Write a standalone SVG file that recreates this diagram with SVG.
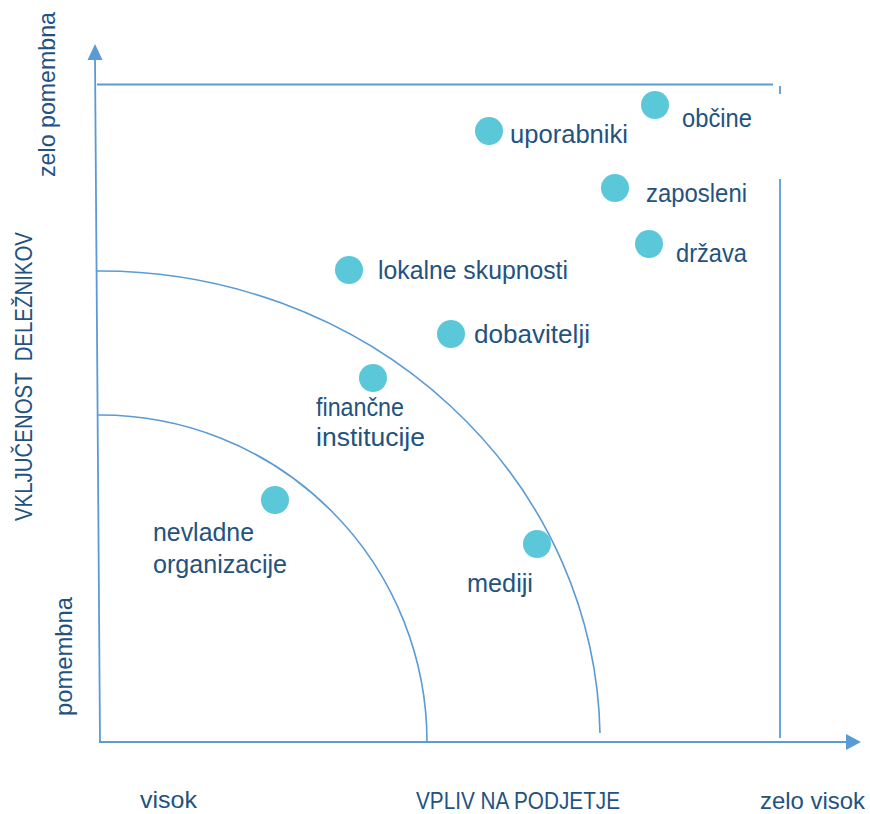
<svg xmlns="http://www.w3.org/2000/svg" width="870" height="814" viewBox="0 0 870 814">
<style>
.ln{fill:none;stroke:#5B9BD5;stroke-width:1.8}
.arc{fill:none;stroke:#5B9BD5;stroke-width:1.6}
.dot{fill:#5BC8D9}
.t{font-family:"Liberation Sans",Arial,sans-serif;font-size:26px;fill:#23527F}
.ax{font-family:"Liberation Sans",Arial,sans-serif;font-size:24px;fill:#23527F;white-space:pre}
</style>
<rect width="870" height="814" fill="#ffffff"/>
<g id="connectors">
<line class="ln" x1="95" y1="58" x2="100" y2="742"/>
<polygon points="95,44 87.5,60 102.5,60" fill="#5B9BD5"/>
<line class="ln" x1="99" y1="742" x2="847" y2="742"/>
<polygon points="861,742 846,734 846,750" fill="#5B9BD5"/>
<line class="ln" x1="97" y1="84.5" x2="773" y2="84.5"/>
<line class="ln" x1="780" y1="86" x2="780" y2="94"/>
<line class="ln" x1="780" y1="179" x2="780" y2="738"/>
<path class="arc" d="M97,271 L100,271 A500,471 0 0 1 600,733"/>
<path class="arc" d="M97,415 L100,415 A327,327 0 0 1 427,742"/>
</g>
<g id="axis-labels">
<text class="ax" x="140" y="808" textLength="57" lengthAdjust="spacingAndGlyphs">visok</text>
<text class="ax" x="416" y="809" textLength="204" lengthAdjust="spacingAndGlyphs">VPLIV NA PODJETJE</text>
<text class="ax" x="760" y="809" textLength="105" lengthAdjust="spacingAndGlyphs">zelo visok</text>
<text class="ax" transform="translate(32,521) rotate(-90)" textLength="289" lengthAdjust="spacingAndGlyphs" xml:space="preserve">VKLJUČENOST  DELEŽNIKOV</text>
<text class="ax" transform="translate(72,716) rotate(-90)" textLength="119" lengthAdjust="spacingAndGlyphs">pomembna</text>
<text class="ax" transform="translate(55,177) rotate(-90)" textLength="165" lengthAdjust="spacingAndGlyphs">zelo pomembna</text>
</g>
<g id="node-uporabniki"><circle class="dot" cx="489" cy="131" r="14"/><text class="t" x="510" y="143" textLength="118" lengthAdjust="spacingAndGlyphs">uporabniki</text></g>
<g id="node-obcine"><circle class="dot" cx="655" cy="105" r="14"/><text class="t" x="682" y="127" textLength="70" lengthAdjust="spacingAndGlyphs">občine</text></g>
<g id="node-zaposleni"><circle class="dot" cx="615" cy="188" r="14"/><text class="t" x="646" y="202" textLength="101" lengthAdjust="spacingAndGlyphs">zaposleni</text></g>
<g id="node-drzava"><circle class="dot" cx="649" cy="244" r="14"/><text class="t" x="676" y="262" textLength="71" lengthAdjust="spacingAndGlyphs">država</text></g>
<g id="node-lokalne"><circle class="dot" cx="349" cy="270" r="14"/><text class="t" x="378" y="279" textLength="190" lengthAdjust="spacingAndGlyphs">lokalne skupnosti</text></g>
<g id="node-dobavitelji"><circle class="dot" cx="451" cy="334" r="14"/><text class="t" x="474" y="343" textLength="116" lengthAdjust="spacingAndGlyphs">dobavitelji</text></g>
<g id="node-financne"><circle class="dot" cx="373" cy="378" r="14"/><text class="t" x="316" y="416" textLength="88" lengthAdjust="spacingAndGlyphs">finančne</text><text class="t" x="316" y="446" textLength="109" lengthAdjust="spacingAndGlyphs">institucije</text></g>
<g id="node-nevladne"><circle class="dot" cx="275" cy="500" r="14"/><text class="t" x="153" y="541" textLength="101" lengthAdjust="spacingAndGlyphs">nevladne</text><text class="t" x="153" y="573" textLength="134" lengthAdjust="spacingAndGlyphs">organizacije</text></g>
<g id="node-mediji"><circle class="dot" cx="537" cy="544" r="14"/><text class="t" x="467" y="592" textLength="66" lengthAdjust="spacingAndGlyphs">mediji</text></g>
</svg>
